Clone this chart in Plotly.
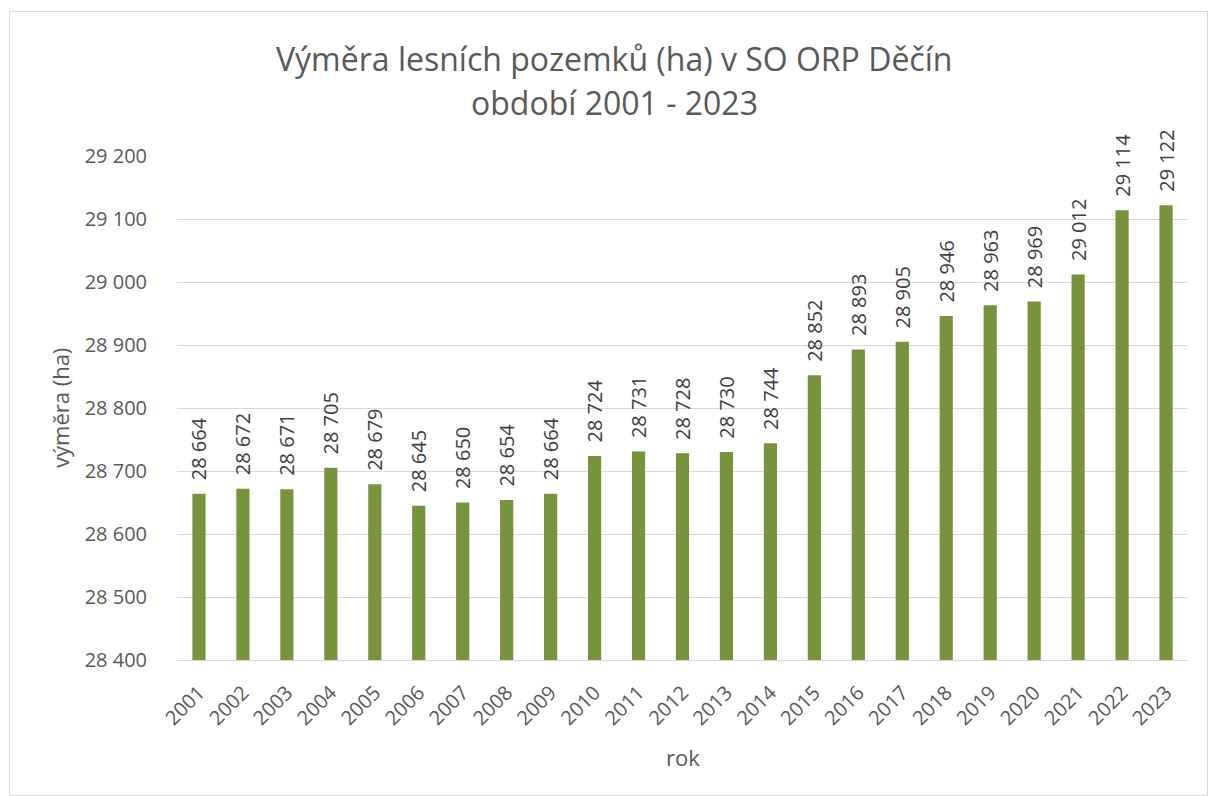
import plotly.graph_objects as go

# Výměra lesních pozemků (ha), SO ORP Děčín, 2001–2023
years = [str(y) for y in range(2001, 2024)]
area_ha = [28664, 28672, 28671, 28705, 28679, 28645, 28650, 28654, 28664, 28724,
           28731, 28728, 28730, 28744, 28852, 28893, 28905, 28946, 28963, 28969,
           29012, 29114, 29122]
y_ticks = [28400, 28500, 28600, 28700, 28800, 28900, 29000, 29100, 29200]

W, H = 1208, 796
L, R, T, B = 177, 20, 156, 136
pw, ph = W - L - R, H - T - B

def px_x(p):
    return (p - L) / pw

def px_y(p):
    return (H - B - p) / ph

FONT = "Open Sans"
GREY = "#595959"

fig = go.Figure(go.Bar(
    x=years,
    y=area_ha,
    marker=dict(color="#77933C", line=dict(width=0)),
    width=0.30,
    # non-breaking spaces keep a gap between the bar top and its rotated label
    texttemplate="\u00a0\u00a0%{y:,d}",
    textposition="outside",
    textangle=-90,
    textfont=dict(family=FONT, size=20, color="#404040"),
    cliponaxis=False,
    constraintext="none",
    hoverinfo="skip",
))

fig.update_layout(
    width=W, height=H,
    margin=dict(l=L, r=R, t=T, b=B),
    paper_bgcolor="white",
    plot_bgcolor="white",
    separators=", ",
    showlegend=False,
    font=dict(family=FONT, color=GREY),
    annotations=[
        dict(text="Výměra lesních pozemků (ha) v SO ORP Děčín",
             xref="paper", yref="paper", x=px_x(614), y=px_y(58),
             xanchor="center", yanchor="middle", showarrow=False,
             font=dict(family=FONT, size=32, color=GREY)),
        dict(text="období 2001 - 2023",
             xref="paper", yref="paper", x=px_x(614), y=px_y(103),
             xanchor="center", yanchor="middle", showarrow=False,
             font=dict(family=FONT, size=32, color=GREY)),
        dict(text="rok",
             xref="paper", yref="paper", x=px_x(683), y=px_y(757),
             xanchor="center", yanchor="middle", showarrow=False,
             font=dict(family=FONT, size=22, color=GREY)),
        dict(text="výměra (ha)",
             xref="paper", yref="paper", x=px_x(60), y=px_y(408),
             xanchor="center", yanchor="middle", showarrow=False, textangle=-90,
             font=dict(family=FONT, size=22, color=GREY)),
    ],
    shapes=[
        dict(type="rect", xref="paper", yref="paper",
             x0=px_x(9.5), x1=px_x(1207.5), y0=px_y(795.5), y1=px_y(11.5),
             line=dict(color="#D9D9D9", width=1), fillcolor="rgba(0,0,0,0)",
             layer="below"),
    ],
)

fig.update_xaxes(
    type="category",
    tickangle=-45,
    tickfont=dict(family=FONT, size=20, color=GREY),
    showgrid=False,
    showline=True, linecolor="#D9D9D9", linewidth=1,
    ticks="",
    ticklabelstandoff=12,
)

fig.update_yaxes(
    range=[28400, 29200],
    tickvals=y_ticks,
    tickformat=",d",
    tickfont=dict(family=FONT, size=20, color=GREY),
    showgrid=True, gridcolor="#D9D9D9", gridwidth=1,
    zeroline=False,
    showline=False,
    ticks="",
    ticklabelstandoff=29,
)

fig.write_html("out.html")
